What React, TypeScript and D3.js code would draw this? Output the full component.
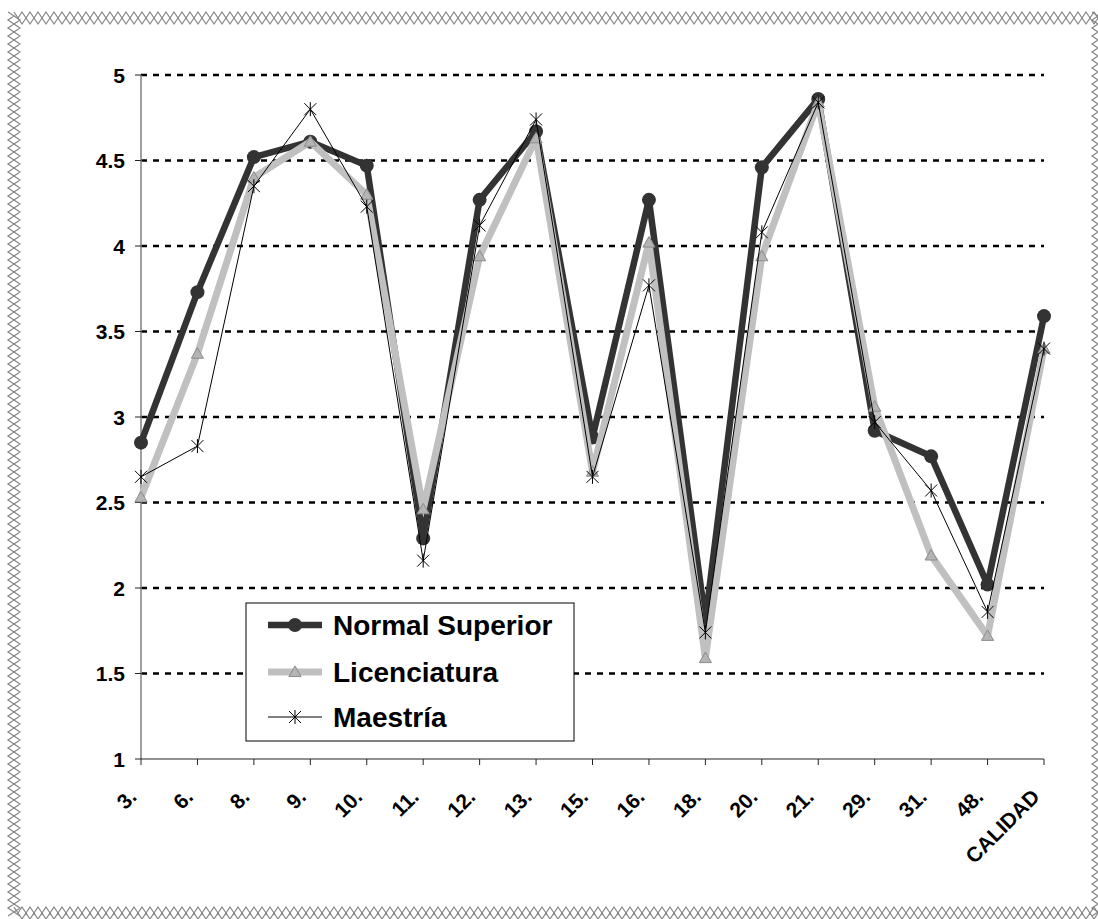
import React from "react";
import * as d3 from "d3";

const categories = ["3.", "6.", "8.", "9.", "10.", "11.", "12.", "13.", "15.", "16.", "18.", "20.", "21.", "29.", "31.", "48.", "CALIDAD"];
const normalSuperior = [2.85, 3.73, 4.52, 4.61, 4.47, 2.29, 4.27, 4.67, 2.88, 4.27, 1.81, 4.46, 4.86, 2.92, 2.77, 2.02, 3.59];
const licenciatura = [2.53, 3.37, 4.40, 4.61, 4.30, 2.46, 3.94, 4.63, 2.68, 4.02, 1.59, 3.94, 4.84, 3.06, 2.19, 1.72, 3.40];
const maestria = [2.65, 2.83, 4.35, 4.80, 4.23, 2.16, 4.12, 4.74, 2.65, 3.77, 1.74, 4.08, 4.84, 2.97, 2.57, 1.86, 3.40];
const yTicks = [1, 1.5, 2, 2.5, 3, 3.5, 4, 4.5, 5];
const seriesNames = ["Normal Superior", "Licenciatura", "Maestría"];

const W = 1098;
const H = 919;
const FONT = "'Liberation Sans', Arial, Helvetica, sans-serif";

const x = d3.scalePoint<string>().domain(categories).range([141, 1044]);
const y = d3.scaleLinear().domain([1, 5]).range([759, 75]);

function zigzagH(x0: number, x1: number, yTop: number, amp: number, period: number) {
  const pts: [number, number][] = [];
  let i = 0;
  for (let xx = x0; xx <= x1; xx += period / 2) {
    pts.push([xx, i % 2 === 0 ? yTop : yTop + amp]);
    i++;
  }
  return d3.line()(pts) || "";
}
function zigzagV(y0: number, y1: number, xLeft: number, amp: number, period: number) {
  const pts: [number, number][] = [];
  let i = 0;
  for (let yy = y0; yy <= y1; yy += period / 2) {
    pts.push([i % 2 === 0 ? xLeft : xLeft + amp, yy]);
    i++;
  }
  return d3.line()(pts) || "";
}

function Marker({ kind, cx, cy }: { kind: number; cx: number; cy: number }) {
  if (kind === 0) {
    return <circle cx={cx} cy={cy} r={7} fill="#333" />;
  }
  if (kind === 1) {
    const s = d3.symbol().type(d3.symbolTriangle).size(64)();
    return <path d={s || ""} transform={`translate(${cx},${cy + 1})`} fill="#b4b4b4" stroke="#8c8c8c" strokeWidth={1} />;
  }
  const r = 6;
  return (
    <g stroke="#000" strokeWidth={1}>
      <line x1={cx - r} y1={cy - r} x2={cx + r} y2={cy + r} />
      <line x1={cx - r} y1={cy + r} x2={cx + r} y2={cy - r} />
      <line x1={cx} y1={cy - r - 1} x2={cx} y2={cy + r + 1} />
    </g>
  );
}

export default function App() {
  const lineGen = d3
    .line<number>()
    .x((_, i) => x(categories[i]) as number)
    .y((d) => y(d));

  const series = [
    { data: normalSuperior, stroke: "#333333", width: 6.5 },
    { data: licenciatura, stroke: "#c0c0c0", width: 7 },
    { data: maestria, stroke: "#000000", width: 1 },
  ];

  const borderColor = "#858585";
  const legend = { x: 246, y: 603, w: 328, h: 138 };
  const legendRows = [625, 672, 717];

  return (
    <svg width={W} height={H} style={{ position: "absolute", left: 0, top: 0, background: "#fff" }}>
      <rect x={0} y={0} width={W} height={H} fill="#fff" />
      {/* decorative zigzag frame */}
      <g fill="none" stroke={borderColor} strokeWidth={1.2}>
        <path d={zigzagH(14, W, 12, 6, 8)} />
        <path d={zigzagH(18, W, 18, 6, 8)} />
        <path d={zigzagV(12, H, 8, 6, 8)} />
        <path d={zigzagV(16, H, 14, 6, 8)} />
        <path d={zigzagH(14, W, 907, 6, 8)} />
        <path d={zigzagH(18, W, 913, 6, 8)} />
        <path d={zigzagV(12, H, 1092, 6, 8)} />
      </g>

      {/* gridlines */}
      <g>
        {yTicks.filter((t) => t > 1).map((t) => (
          <line key={t} x1={141} x2={1044} y1={y(t)} y2={y(t)} stroke="#000" strokeWidth={2.5} strokeDasharray="6,6" />
        ))}
      </g>

      {/* axes */}
      <line x1={141} x2={141} y1={y(5)} y2={y(1)} stroke="#808080" strokeWidth={1.5} />
      <line x1={141} x2={1044} y1={y(1)} y2={y(1)} stroke="#222" strokeWidth={1.2} />
      {yTicks.map((t) => (
        <g key={t}>
          <line x1={135} x2={141} y1={y(t)} y2={y(t)} stroke="#222" strokeWidth={1} />
          <text x={125} y={y(t)} dy="0.36em" textAnchor="end" fontFamily={FONT} fontWeight="bold" fontSize={21} fill="#000">
            {String(t)}
          </text>
        </g>
      ))}
      {categories.map((c) => {
        const cx = x(c) as number;
        return (
          <g key={c}>
            <line x1={cx} x2={cx} y1={759} y2={765} stroke="#222" strokeWidth={1} />
            <text
              transform={`translate(${cx - 3},${798}) rotate(-45)`}
              textAnchor="end"
              fontFamily={FONT}
              fontWeight="bold"
              fontSize={21}
              fill="#000"
            >
              {c}
            </text>
          </g>
        );
      })}

      {/* series */}
      {series.map((s, k) => (
        <g key={k}>
          <path d={lineGen(s.data) || ""} fill="none" stroke={s.stroke} strokeWidth={s.width} strokeLinejoin="round" />
          {s.data.map((v, i) => (
            <Marker key={i} kind={k} cx={x(categories[i]) as number} cy={y(v)} />
          ))}
        </g>
      ))}

      {/* legend */}
      <rect x={legend.x} y={legend.y} width={legend.w} height={legend.h} fill="#fff" stroke="#000" strokeWidth={1} />
      {seriesNames.map((n, k) => (
        <g key={n}>
          <line x1={268} x2={322} y1={legendRows[k]} y2={legendRows[k]} stroke={series[k].stroke} strokeWidth={series[k].width} />
          <Marker kind={k} cx={295} cy={legendRows[k]} />
          <text x={333} y={legendRows[k]} dy="0.36em" fontFamily={FONT} fontWeight="bold" fontSize={28} fill="#000">
            {n}
          </text>
        </g>
      ))}
    </svg>
  );
}
